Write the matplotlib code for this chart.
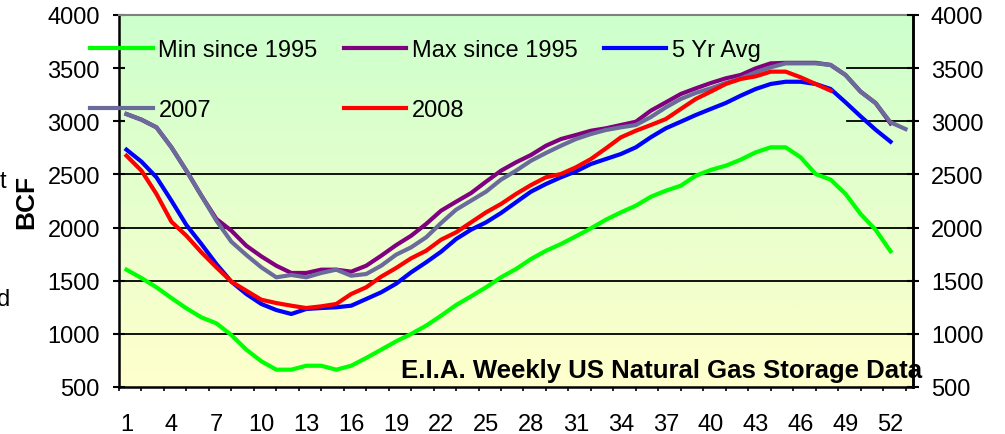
import numpy as np
import matplotlib
matplotlib.use('Agg')
import matplotlib.pyplot as plt

plt.rcParams['font.family'] = ['Liberation Sans', 'DejaVu Sans']

# weekly storage, BCF
min_1995 = [1604, 1525, 1438, 1337, 1240, 1155, 1099, 989, 851, 742,
            663, 663, 700, 700, 663, 700, 773, 851, 930, 999,
            1077, 1171, 1271, 1353, 1438, 1532, 1610, 1704, 1782, 1845,
            1918, 1993, 2074, 2143, 2206, 2290, 2347, 2394, 2488, 2542,
            2582, 2639, 2708, 2755, 2755, 2661, 2504, 2451, 2316, 2128,
            1980, 1777]
max_1995 = [3068, 3015, 2943, 2755, 2535, 2300, 2081, 1971, 1829, 1729,
            1641, 1573, 1573, 1604, 1604, 1585, 1641, 1735, 1835, 1923,
            2034, 2159, 2243, 2325, 2432, 2535, 2614, 2683, 2770, 2833,
            2871, 2911, 2934, 2965, 2996, 3100, 3178, 3257, 3310, 3360,
            3404, 3436, 3498, 3545, 3550, 3550, 3550, 3530, 3435, 3279,
            3172, 2980]
avg_5yr = [2733, 2620, 2473, 2253, 2024, 1845, 1657, 1491, 1375, 1281,
           1224, 1187, 1234, 1243, 1250, 1265, 1328, 1391, 1472, 1579,
           1673, 1773, 1892, 1980, 2049, 2137, 2238, 2338, 2410, 2473,
           2529, 2598, 2645, 2692, 2755, 2850, 2934, 2996, 3059, 3116,
           3172, 3241, 3304, 3351, 3372, 3372, 3351, 3304, 3178, 3047,
           2921, 2808]
y2007 = [3068, 3015, 2943, 2755, 2535, 2300, 2065, 1867, 1742, 1626,
         1532, 1554, 1532, 1573, 1604, 1547, 1563, 1641, 1745, 1814,
         1908, 2043, 2168, 2253, 2338, 2451, 2535, 2629, 2702, 2770,
         2833, 2880, 2918, 2943, 2965, 3040, 3131, 3210, 3267, 3310,
         3360, 3404, 3461, 3508, 3545, 3545, 3545, 3530, 3435, 3279,
         3172, 2990, 2927]
y2008 = [2676, 2535, 2316, 2055, 1923, 1767, 1626, 1491, 1406, 1321,
         1290, 1265, 1243, 1259, 1281, 1375, 1438, 1538, 1620, 1711,
         1782, 1886, 1955, 2049, 2143, 2222, 2316, 2400, 2473, 2504,
         2567, 2645, 2745, 2849, 2911, 2965, 3021, 3116, 3210, 3279,
         3351, 3398, 3423, 3467, 3467, 3414, 3351, 3288]

week_labels = list(range(1, 53, 3))
y_ticks = list(range(500, 4001, 500))


def weeks(vals):
    return np.arange(1, len(vals) + 1)


fig = plt.figure(figsize=(10.05, 4.35), dpi=100)
ax = fig.add_axes([119/1005, 1 - 388/435, 794/1005, 372/435])

# green -> yellow background
top = np.array([0.80, 1.0, 0.80])
bot = np.array([1.0, 1.0, 0.80])
t = np.linspace(0, 1, 256)[:, None]
grad = (top * (1 - t) + bot * t)[:, None, :]
ax.imshow(grad, extent=[0, 1, 0, 1], transform=ax.transAxes,
          aspect='auto', zorder=0)

for v in [1000, 1500, 2000, 2500]:
    ax.axhline(v, color='black', lw=1.3, zorder=1)
for v in [3000, 3500]:
    ax.axhline(v, xmin=0.917, color='black', lw=1.3, zorder=1)

lw = 3
l_min, = ax.plot(weeks(min_1995), min_1995, color='#00FF00', lw=lw, label='Min since 1995')
l_max, = ax.plot(weeks(max_1995), max_1995, color='#800080', lw=lw, label='Max since 1995')
l_avg, = ax.plot(weeks(avg_5yr), avg_5yr, color='#0000FF', lw=lw, label='5 Yr Avg')
l_07, = ax.plot(weeks(y2007), y2007, color='#6B6B9B', lw=lw, label='2007')
l_08, = ax.plot(weeks(y2008), y2008, color='#FF0000', lw=lw, label='2008')

ax.set_xlim(0.5, 53.5)
ax.set_ylim(500, 4000)
ax.set_yticks(y_ticks)
ax.set_xticks(week_labels)
ax.set_xticks(np.arange(0.5, 53.6, 1.5), minor=True)
ax.tick_params(axis='x', which='major', length=0, pad=19, labelsize=17)
ax.tick_params(axis='x', which='minor', length=3, width=1.2, direction='out')
ax.tick_params(axis='y', length=8.6, width=1.5, direction='inout', pad=9.4, labelsize=17)
ax.set_ylabel('BCF', fontsize=19, fontweight='bold', labelpad=7)

for s in ['left', 'bottom', 'right']:
    ax.spines[s].set_linewidth(1.8)
ax.spines['top'].set_color('#808080')
ax.spines['top'].set_linewidth(1.5)

ax2 = ax.twinx()
ax2.set_ylim(500, 4000)
ax2.set_yticks(y_ticks)
ax2.tick_params(axis='y', length=8.6, width=1.5, direction='inout', pad=8.6, labelsize=17)
for s in ['left', 'top', 'bottom']:
    ax2.spines[s].set_visible(False)
ax2.spines['right'].set_linewidth(1.8)

ax.legend([l_min, l_07, l_max, l_08, l_avg],
          ['Min since 1995', '2007', 'Max since 1995', '2008', '5 Yr Avg'],
          ncol=3, loc='upper left', bbox_to_anchor=(90/1005, 1 - 40/435),
          bbox_transform=fig.transFigure, frameon=False, fontsize=17,
          handlelength=2.65, handletextpad=0.25, columnspacing=1.1,
          labelspacing=1.6, borderpad=0, borderaxespad=0)

fig.text(922/1005, 1 - 378/435, 'E.I.A. Weekly US Natural Gas Storage Data',
         ha='right', va='baseline', fontsize=18.5, fontweight='bold')

# clipped text fragments at the left edge
fig.text(6/1005, 1 - 182/435, 't', ha='right', va='center', fontsize=17)
fig.text(10/1005, 1 - 300/435, 'd', ha='right', va='center', fontsize=17)

fig.savefig('out.png', dpi=100)
